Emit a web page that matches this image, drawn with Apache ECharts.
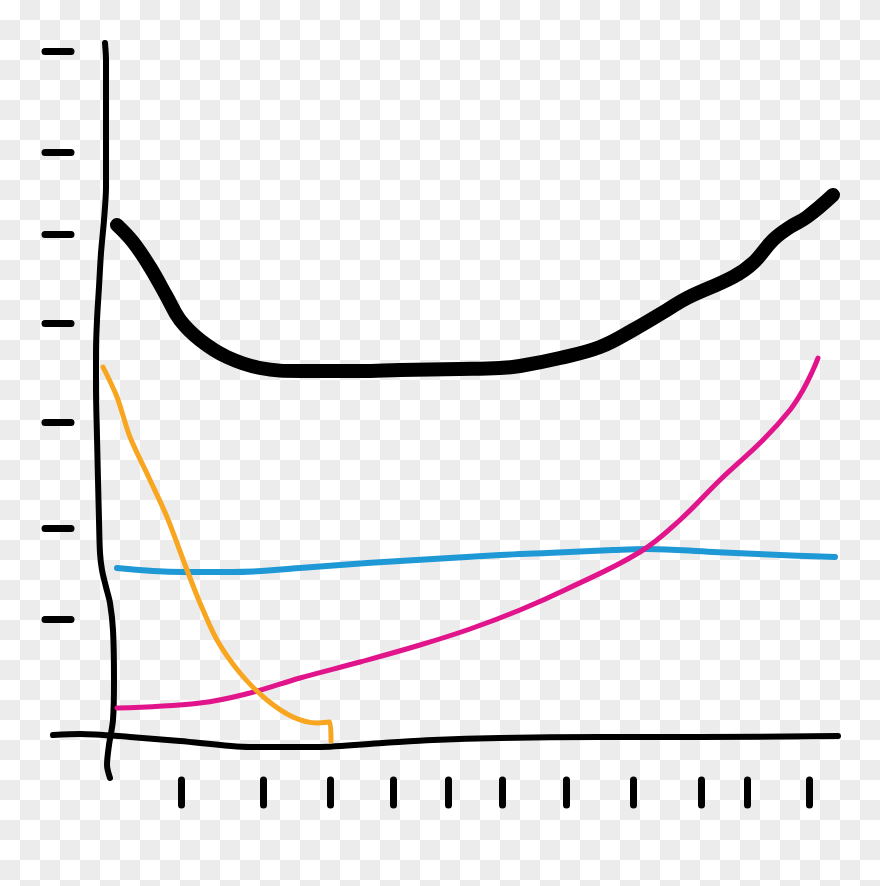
<!DOCTYPE html>
<html>
<head>
<meta charset="utf-8">
<script src="https://cdn.jsdelivr.net/npm/echarts@6/dist/echarts.min.js"></script>
<style>
  html, body { margin: 0; padding: 0; }
  #chart {
    width: 880px; height: 886px;
    background-color: #ffffff;
    background-image: conic-gradient(#ececec 25%, #ffffff 0 50%, #ececec 0 75%, #ffffff 0);
    background-size: 40px 40px;
  }
</style>
</head>
<body>
<div id="chart"></div>
<script>
// Data (x, y) in chart units
const blackCurve = [[12,515],[28,498],[45,473],[62,443],[75,420],[95,400],[122,383],[155,372],[195,369],[255,369],[295,370],[355,371],[395,372],[415,374],[455,382],[495,393],[528,410],[562,430],[582,442],[628,463],[648,477],[668,500],[685,513],[702,523],[728,545]];
const orangeCurve = [[-2,373],[12,343],[25,303],[45,260],[62,223],[82,170],[95,137],[112,100],[135,67],[162,40],[188,23],[212,17],[225,18],[226,-1]];
const blueCurve = [[12,172],[78,168],[128,168],[195,172],[262,177],[328,181],[395,185],[442,187],[508,190],[542,191],[608,188],[675,185],[730,183]];
const magentaCurve = [[12,32],[95,37],[145,47],[195,62],[255,78],[315,95],[365,111],[415,130],[462,151],[535,188],[575,220],[615,260],[658,300],[685,330],[698,350],[708,370],[713,382]];
// hand-drawn axis strokes
const yAxisStroke = [[0,697],[1,680],[1,620],[1,553],[-1,520],[-4,487],[-6,453],[-8,420],[-9,387],[-9,353],[-8,303],[-7,260],[-6,220],[-5,187],[-3,170],[1,153],[5,137],[8,110],[9,60],[8,20],[4,-5],[2,-25],[5,-38]];
const xAxisStroke = [[-52,5],[-25,6],[25,3],[75,-1],[145,-7],[212,-7],[278,-3],[328,0],[395,2],[495,3],[595,3],[733,4]];
// tick positions
const xTicks = [76,158,225,288,343,397,461,528,596,642,704];
const yTicks = [689,588,506,417,318,212,121];

const chart = echarts.init(document.getElementById('chart'), null, {renderer: 'canvas'});

function line(data, color, width, smooth) {
  return {
    type: 'line', data: data, symbol: 'none', smooth: smooth, clip: false,
    lineStyle: { color: color, width: width, cap: 'round', join: 'round' },
    emphasis: { disabled: true }, silent: true
  };
}

chart.setOption({
  animation: false,
  backgroundColor: 'transparent',
  grid: { left: 45, right: 42, top: 40, bottom: 106 },
  xAxis: {
    type: 'value', min: -60, max: 733, position: 'bottom',
    axisLine: { show: false, onZero: false },
    axisLabel: { show: false },
    splitLine: { show: false },
    axisTick: { show: true, length: 25, customValues: xTicks,
      lineStyle: { color: '#000', width: 7, cap: 'round' } }
  },
  yAxis: {
    type: 'value', min: -40, max: 700, position: 'left',
    axisLine: { show: false, onZero: false },
    axisLabel: { show: false },
    splitLine: { show: false },
    axisTick: { show: true, inside: true, length: 26, customValues: yTicks,
      lineStyle: { color: '#000', width: 7, cap: 'round' } }
  },
  series: [
    line(yAxisStroke, '#000000', 6, 0.3),
    line(xAxisStroke, '#000000', 6, 0.3),
    line(blueCurve, '#1f98d6', 6, 0.4),
    line(magentaCurve, '#e1148c', 5, 0.4),
    line(orangeCurve, '#f8a51f', 5, 0.3),
    line(blackCurve, '#000000', 14, 0.4)
  ]
});
</script>
</body>
</html>
